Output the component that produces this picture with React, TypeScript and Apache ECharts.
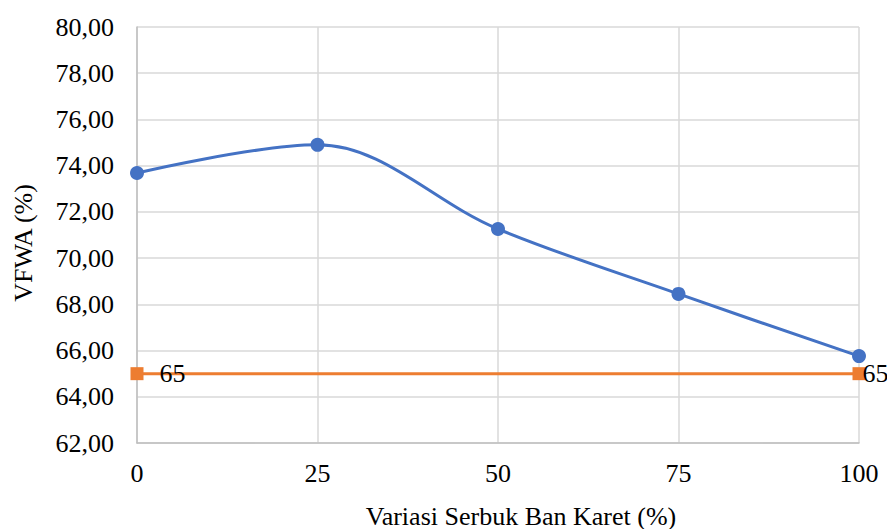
import React, { useEffect, useRef } from "react";
import * as echarts from "echarts";

const xValues = [0, 25, 50, 75, 100];
const vfwa = [73.68, 74.9, 71.26, 68.45, 65.76];
const standard = [65, 65, 65, 65, 65];

const FONT = "Times New Roman, Liberation Serif, serif";

export default function App() {
  const ref = useRef<HTMLDivElement>(null);
  useEffect(() => {
    if (!ref.current) return;
    const chart = echarts.init(ref.current, undefined, { renderer: "svg" });
    const lastIdx = standard.length - 1;
    chart.setOption({
      animation: false,
      backgroundColor: "#ffffff",
      textStyle: { fontFamily: FONT },
      grid: {
        left: 137,
        top: 27,
        width: 722,
        height: 416,
        containLabel: false,
        outerBoundsMode: "none",
      },
      xAxis: {
        type: "value",
        min: 0,
        max: 100,
        interval: 25,
        name: "Variasi Serbuk Ban Karet (%)",
        nameLocation: "middle",
        nameGap: 60,
        nameTextStyle: {
          fontFamily: FONT,
          fontSize: 26,
          color: "#000",
          padding: [0, 0, 0, 46],
        },
        axisLine: { show: true, lineStyle: { color: "#bfbfbf", width: 1.5 } },
        axisTick: { show: false },
        axisLabel: {
          fontFamily: FONT,
          fontSize: 26,
          color: "#000",
          margin: 17,
        },
        splitLine: { show: true, lineStyle: { color: "#d9d9d9", width: 1.5 } },
      },
      yAxis: {
        type: "value",
        min: 62,
        max: 80,
        interval: 2,
        name: "VFWA (%)",
        nameLocation: "middle",
        nameGap: 101,
        nameRotate: 90,
        nameTextStyle: {
          fontFamily: FONT,
          fontSize: 26,
          color: "#000",
          padding: [0, 16, 0, 0],
        },
        axisLine: { show: true, lineStyle: { color: "#bfbfbf", width: 1.5 } },
        axisTick: { show: false },
        axisLabel: {
          fontFamily: FONT,
          fontSize: 26,
          color: "#000",
          margin: 23,
          formatter: (v: number) => v.toFixed(2).replace(".", ","),
        },
        splitLine: { show: true, lineStyle: { color: "#d9d9d9", width: 1.5 } },
      },
      series: [
        {
          type: "line",
          data: xValues.map((x, i) => [x, vfwa[i]]),
          smooth: 0.35,
          symbol: "circle",
          symbolSize: 14,
          itemStyle: { color: "#4472C4" },
          lineStyle: { color: "#4472C4", width: 3 },
          z: 3,
        },
        {
          type: "line",
          data: xValues.map((x, i) => {
            const d: any = { value: [x, standard[i]] };
            if (i === 0) {
              d.label = { show: true, position: "right", distance: 16 };
            } else if (i === lastIdx) {
              d.label = { show: true, position: "right", distance: -3 };
            } else {
              d.symbol = "none";
            }
            return d;
          }),
          symbol: "rect",
          symbolSize: 13,
          showSymbol: true,
          itemStyle: { color: "#ED7D31" },
          lineStyle: { color: "#ED7D31", width: 3 },
          label: {
            show: false,
            fontFamily: FONT,
            fontSize: 26,
            color: "#000",
            formatter: (p: any) => String(p.value[1]),
          },
          z: 2,
        },
      ],
    });
    return () => chart.dispose();
  }, []);
  return (
    <div
      ref={ref}
      style={{ position: "fixed", left: 0, top: 0, width: 887, height: 529 }}
    />
  );
}
